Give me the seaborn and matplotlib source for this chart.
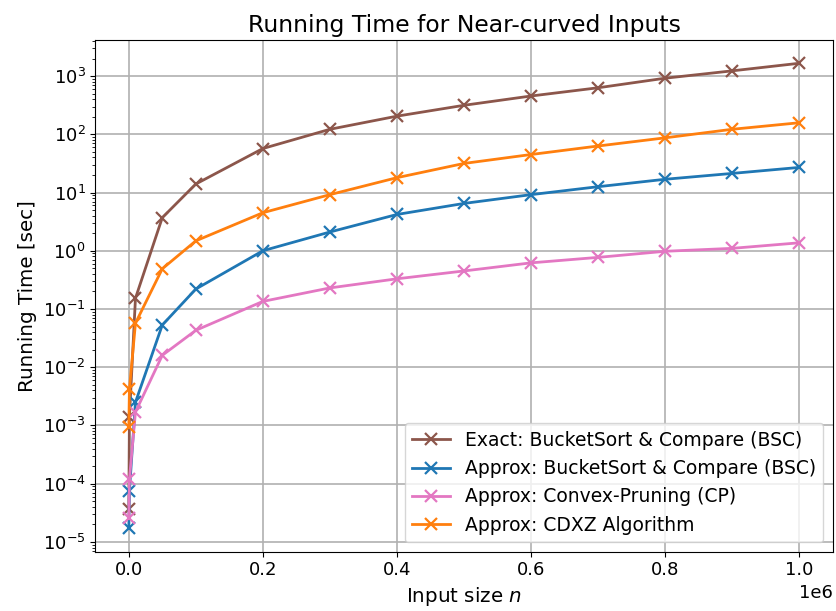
import matplotlib
matplotlib.use("Agg")
import matplotlib.pyplot as plt
import seaborn as sns
import pandas as pd
import numpy as np

n_values = [100, 1000, 10000, 50000, 100000, 200000, 300000, 400000, 500000,
            600000, 700000, 800000, 900000, 1000000]

exact_bsc = [3.7e-5, 1.4e-3, 0.153, 3.7, 14.0, 57.0, 122.0, 205.0, 315.0,
             455.0, 630.0, 920.0, 1230.0, 1660.0]
approx_bsc = [1.7e-5, 7.6e-5, 2.5e-3, 0.053, 0.22, 1.0, 2.1, 4.2, 6.5,
              9.2, 12.6, 16.9, 21.3, 27.0]
approx_cp = [2.6e-5, 1.2e-4, 1.7e-3, 0.016, 0.043, 0.135, 0.23, 0.33, 0.45,
             0.62, 0.77, 0.98, 1.1, 1.37]
approx_cdxz = [9.5e-4, 4.2e-3, 0.057, 0.49, 1.48, 4.5, 9.2, 18.0, 31.6,
               45.0, 63.0, 87.0, 122.0, 158.0]

labels = ["Exact: BucketSort & Compare (BSC)",
          "Approx: BucketSort & Compare (BSC)",
          "Approx: Convex-Pruning (CP)",
          "Approx: CDXZ Algorithm"]
colors = ["#8c564b", "#1f77b4", "#e377c2", "#ff7f0e"]

series = [exact_bsc, approx_bsc, approx_cp, approx_cdxz]
rows = []
for lab, vals in zip(labels, series):
    for n, v in zip(n_values, vals):
        rows.append({"n": n, "time": v, "method": lab})
df = pd.DataFrame(rows)

plt.rcParams["font.family"] = ["DejaVu Sans"]
plt.rcParams["font.size"] = 13

fig, ax = plt.subplots(figsize=(8.36, 6.11), dpi=100)
fig.subplots_adjust(left=0.114, right=0.996, top=0.9345, bottom=0.097)

sns.lineplot(data=df, x="n", y="time", hue="method", hue_order=labels,
             palette=dict(zip(labels, colors)), marker="x", markersize=9,
             linewidth=2, ax=ax, errorbar=None, legend=False)

for line, c in zip(ax.get_lines(), colors):
    line.set_markeredgecolor(c)
    line.set_markerfacecolor(c)
    line.set_markeredgewidth(1.6)
    line.set_label(None)

ax.set_yscale("log")
ax.set_xticks([0, 200000, 400000, 600000, 800000, 1000000])
ax.grid(True, which="major", color="#b0b0b0", linewidth=1.2)
ax.set_axisbelow(True)
ax.set_title("Running Time for Near-curved Inputs", fontsize=16.9)
ax.set_xlabel("Input size $n$", fontsize=14.3)
ax.set_ylabel("Running Time [sec]", fontsize=14.3)
ax.tick_params(axis="both", labelsize=13)
ax.xaxis.get_offset_text().set_fontsize(13)

lines = ax.get_lines()
ax.legend(lines[:4], labels, loc="lower right", fontsize=13.5, framealpha=0.8)

fig.savefig("out.png", dpi=100)
